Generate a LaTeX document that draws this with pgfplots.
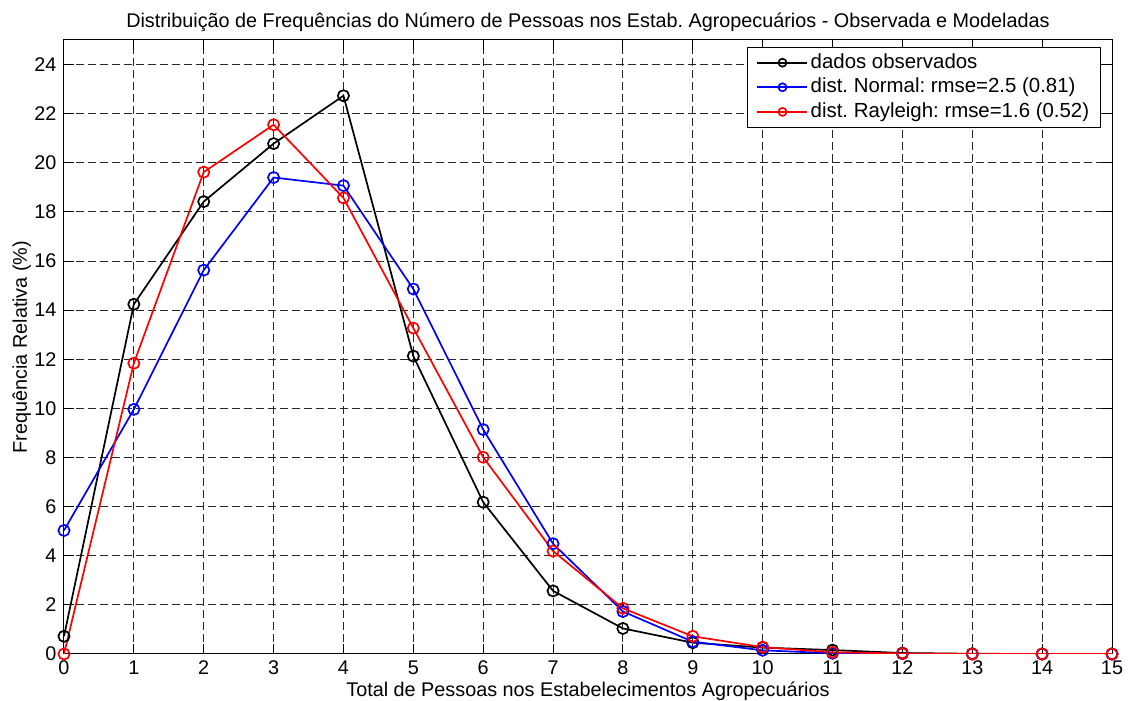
\documentclass[border=0pt]{standalone}
\usepackage{fontspec}
\setmainfont{Liberation Sans}
\usepackage{pgfplots}
\pgfplotsset{compat=1.18}
\frenchspacing
\begin{document}
\begin{tikzpicture}
\path[use as bounding box] (-32pt,-23.5pt) rectangle (533.5pt,327pt);
\begin{axis}[
  at={(0,0)}, anchor=south west,
  width=524pt, height=307pt, scale only axis,
  xmin=0, xmax=15, ymin=0, ymax=25,
  xtick={0,1,...,15}, ytick={0,2,...,24},
  font=\fontsize{9.9}{11.5}\selectfont,
  /pgf/number format/assume math mode=true,
  tick label style={font=\fontsize{9.9}{11.5}\selectfont},
  xticklabel style={yshift=0pt},
  yticklabel style={xshift=-0.3pt},
  axis line style={line width=0.5pt},
  tick style={line width=0.5pt, black},
  major tick length=5pt,
  tick align=inside,
  grid=major,
  major grid style={black!85, line width=0.5pt, dash pattern=on 3.8pt off 2.2pt},
  title={Distribuição de Frequências do Número de Pessoas nos Estab.\ Agropecuários - Observada e Modeladas},
  every axis title/.style={at={(axis description cs:0.5,1)}, anchor=base, yshift=6pt, inner sep=0pt},
  xlabel={Total de Pessoas nos Estabelecimentos Agropecuários},
  every axis x label/.style={at={(axis description cs:0.5,0)}, anchor=base, yshift=-21.5pt, inner sep=0pt},
  ylabel={Frequência Relativa (\%)},
  every axis y label/.style={at={([xshift=-18.5pt]axis description cs:0,0.5)}, anchor=base, rotate=90, inner sep=0pt},
  legend style={at={(0.9895,0.9886)}, anchor=north east, draw=black, line width=0.5pt,
     font=\fontsize{10.2}{11.8}\selectfont, inner xsep=4.5pt, inner ysep=1.5pt,
     row sep=0.1pt,
     nodes={inner sep=1.2pt, text height=7.6pt, text depth=2.2pt, anchor=west}},
  legend cell align=left,
  legend image code/.code={
     \draw[#1, mark size=2pt, mark repeat=2, mark phase=2] plot coordinates {(0pt,0pt) (12.5pt,0pt) (25pt,0pt)};
  },
  every axis plot/.append style={line width=0.85pt, mark=o, mark size=2.8pt, mark options={solid, line width=0.85pt}},
]
\addplot[black] coordinates {
(0,0.72) (1,14.24) (2,18.42) (3,20.78) (4,22.73) (5,12.13) (6,6.18) (7,2.57)
(8,1.04) (9,0.46) (10,0.26) (11,0.16) (12,0.04) (13,0.01) (14,0) (15,0)};
\addlegendentry{dados observados}
\addplot[blue] coordinates {
(0,5.03) (1,9.96) (2,15.63) (3,19.40) (4,19.07) (5,14.86) (6,9.14) (7,4.49)
(8,1.73) (9,0.50) (10,0.15) (11,0.03) (12,0.01) (13,0) (14,0) (15,0)};
\addlegendentry{dist.\ Normal: rmse=2.5 (0.81)}
\addplot[red] coordinates {
(0,0) (1,11.84) (2,19.62) (3,21.55) (4,18.57) (5,13.27) (6,8.01) (7,4.19)
(8,1.86) (9,0.72) (10,0.28) (11,0.07) (12,0.02) (13,0) (14,0) (15,0)};
\addlegendentry{dist.\ Rayleigh: rmse=1.6 (0.52)}
\end{axis}
\end{tikzpicture}
\end{document}
